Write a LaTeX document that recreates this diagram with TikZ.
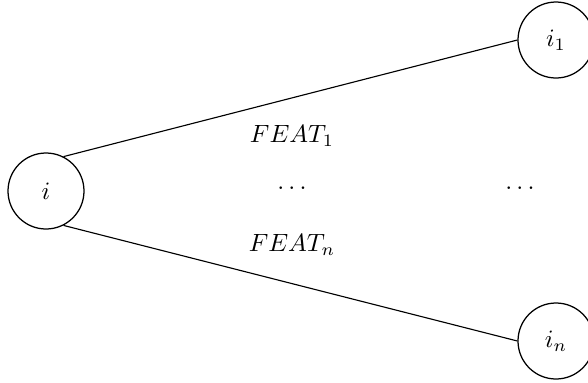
\documentclass[tikz,border=0pt]{standalone}
\begin{document}
\begin{tikzpicture}[x=0.4pt,y=-0.4pt,
  state/.style={draw,circle,minimum size=30.4pt,inner sep=0pt,line width=0.5pt},
  conn/.style={line width=0.45pt}]
\useasboundingbox (0,0) rectangle (588,382);
\node[state] (i) at (46,191) {$i$};
\node[state] (i1) at (556,40) {$i_1$};
\node[state] (in) at (556,341) {$i_n$};
\draw[conn] (i.63) -- (i1.west);
\draw[conn] (i.-63) -- (in.west);
\node (f1) at (292,136) {$FEAT_1$};
\node (d1) at (292,188) {$\dots$};
\node (fn) at (292,245) {$FEAT_n$};
\node (d2) at (520,188) {$\dots$};
\end{tikzpicture}
\end{document}
